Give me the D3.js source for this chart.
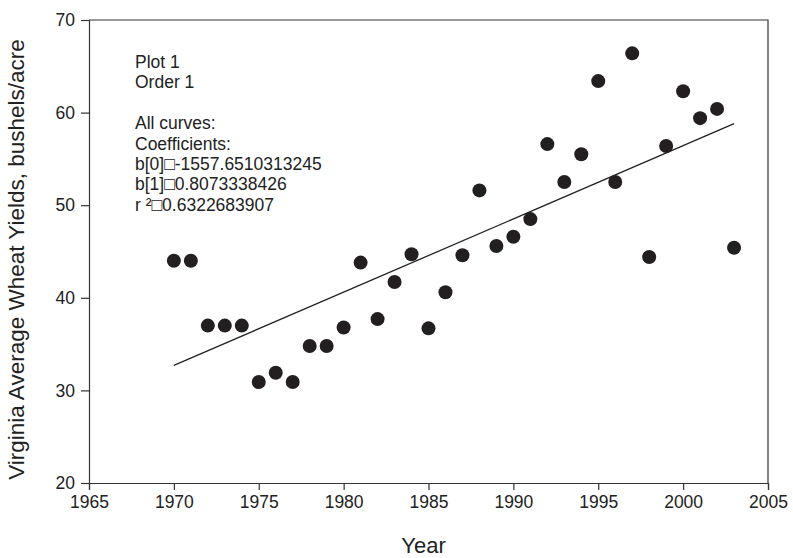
<!DOCTYPE html>
<html>
<head>
<meta charset="utf-8">
<script src="https://cdn.jsdelivr.net/npm/d3@7"></script>
<style>
  body { margin: 0; background: #fff; }
  text { font-family: "Liberation Sans", Arial, sans-serif; fill: #222; }
</style>
</head>
<body>
<svg id="chart"></svg>
<script>
// data
const years = [1970, 1971, 1972, 1973, 1974, 1975, 1976, 1977, 1978, 1979,
    1980, 1981, 1982, 1983, 1984, 1985, 1986, 1987, 1988, 1989,
    1990, 1991, 1992, 1993, 1994, 1995, 1996, 1997, 1998, 1999,
    2000, 2001, 2002, 2003];
const yields = [44.0, 44.0, 37.0, 37.0, 37.0, 30.9, 31.9, 30.9, 34.8, 34.8,
    36.8, 43.8, 37.7, 41.7, 44.7, 36.7, 40.6, 44.6, 51.6, 45.6,
    46.6, 48.5, 56.6, 52.5, 55.5, 63.4, 52.5, 66.4, 44.4, 56.4,
    62.3, 59.4, 60.4, 45.4];
const fitYears = [1970, 2003];
const fitValues = [32.7, 58.8];
const xTicks = [1965, 1970, 1975, 1980, 1985, 1990, 1995, 2000, 2005];
const yTicks = [20, 30, 40, 50, 60, 70];
const notes = ["Plot 1", "Order 1", "", "All curves:", "Coefficients:",
    "b[0]\u25A1-1557.6510313245", "b[1]\u25A10.8073338426", "r \u00B2\u25A10.6322683907"];

class YieldChart {

    constructor(el) {
        this.el = d3.select(el);
    }

    draw() {
        const margin = {top: 20, right: 25, bottom: 75, left: 89},
            width = 793 - margin.left - margin.right,
            height = 558 - margin.top - margin.bottom;

        this.x = d3.scaleLinear().domain([1965, 2005]).range([0, width]);
        this.y = d3.scaleLinear().domain([20, 70]).range([height, 0]);

        const svg = this.el
            .attr("width", width + margin.left + margin.right)
            .attr("height", height + margin.top + margin.bottom)
            .append("g")
            .attr("transform", "translate(" + margin.left + "," + margin.top + ")");

        // frame (top and right edges)
        svg.append("path")
            .attr("d", "M0,0H" + width + "V" + height)
            .attr("fill", "none")
            .attr("stroke", "#333")
            .attr("stroke-width", 1.2);

        // X axis
        const xAxis = svg.append("g")
            .attr("transform", "translate(0," + height + ")")
            .call(d3.axisBottom(this.x).tickValues(xTicks).tickFormat(d3.format("d"))
                .tickSize(7).tickPadding(6));

        // Y axis
        const yAxis = svg.append("g")
            .call(d3.axisLeft(this.y).tickValues(yTicks).tickSize(8).tickPadding(6));

        [xAxis, yAxis].forEach(a => {
            a.select(".domain").attr("stroke", "#333").attr("stroke-width", 1.2);
            a.selectAll(".tick line").attr("stroke", "#333").attr("stroke-width", 1.2);
            a.selectAll(".tick text")
                .attr("font-size", "17.5px")
                .attr("font-family", "Liberation Sans, Arial, sans-serif")
                .attr("fill", "#222");
        });

        // regression line
        const line = d3.line()
            .x((d, i) => this.x(fitYears[i]))
            .y(d => this.y(d));
        svg.append("path")
            .datum(fitValues)
            .attr("d", line)
            .attr("fill", "none")
            .attr("stroke", "#222")
            .attr("stroke-width", 1.3);

        // points
        svg.selectAll(".dot")
            .data(yields)
            .enter().append("circle")
            .attr("class", "dot")
            .attr("cx", (d, i) => this.x(years[i]))
            .attr("cy", d => this.y(d))
            .attr("r", 7)
            .attr("fill", "#231f20");

        // annotation block
        svg.append("g")
            .attr("transform", "translate(46,48)")
            .selectAll("text")
            .data(notes)
            .enter().append("text")
            .attr("y", (d, i) => i * 20.4)
            .attr("font-size", "17.5px")
            .text(d => d);

        // axis titles
        svg.append("text")
            .attr("x", width / 2 - 5)
            .attr("y", height + 70)
            .attr("text-anchor", "middle")
            .attr("font-size", "22px")
            .text("Year");

        svg.append("text")
            .attr("transform", "translate(-65," + (height / 2 + 8) + ") rotate(-90)")
            .attr("text-anchor", "middle")
            .attr("font-size", "22.5px")
            .text("Virginia Average Wheat Yields, bushels/acre");
    }
}

new YieldChart("#chart").draw();
</script>
</body>
</html>
